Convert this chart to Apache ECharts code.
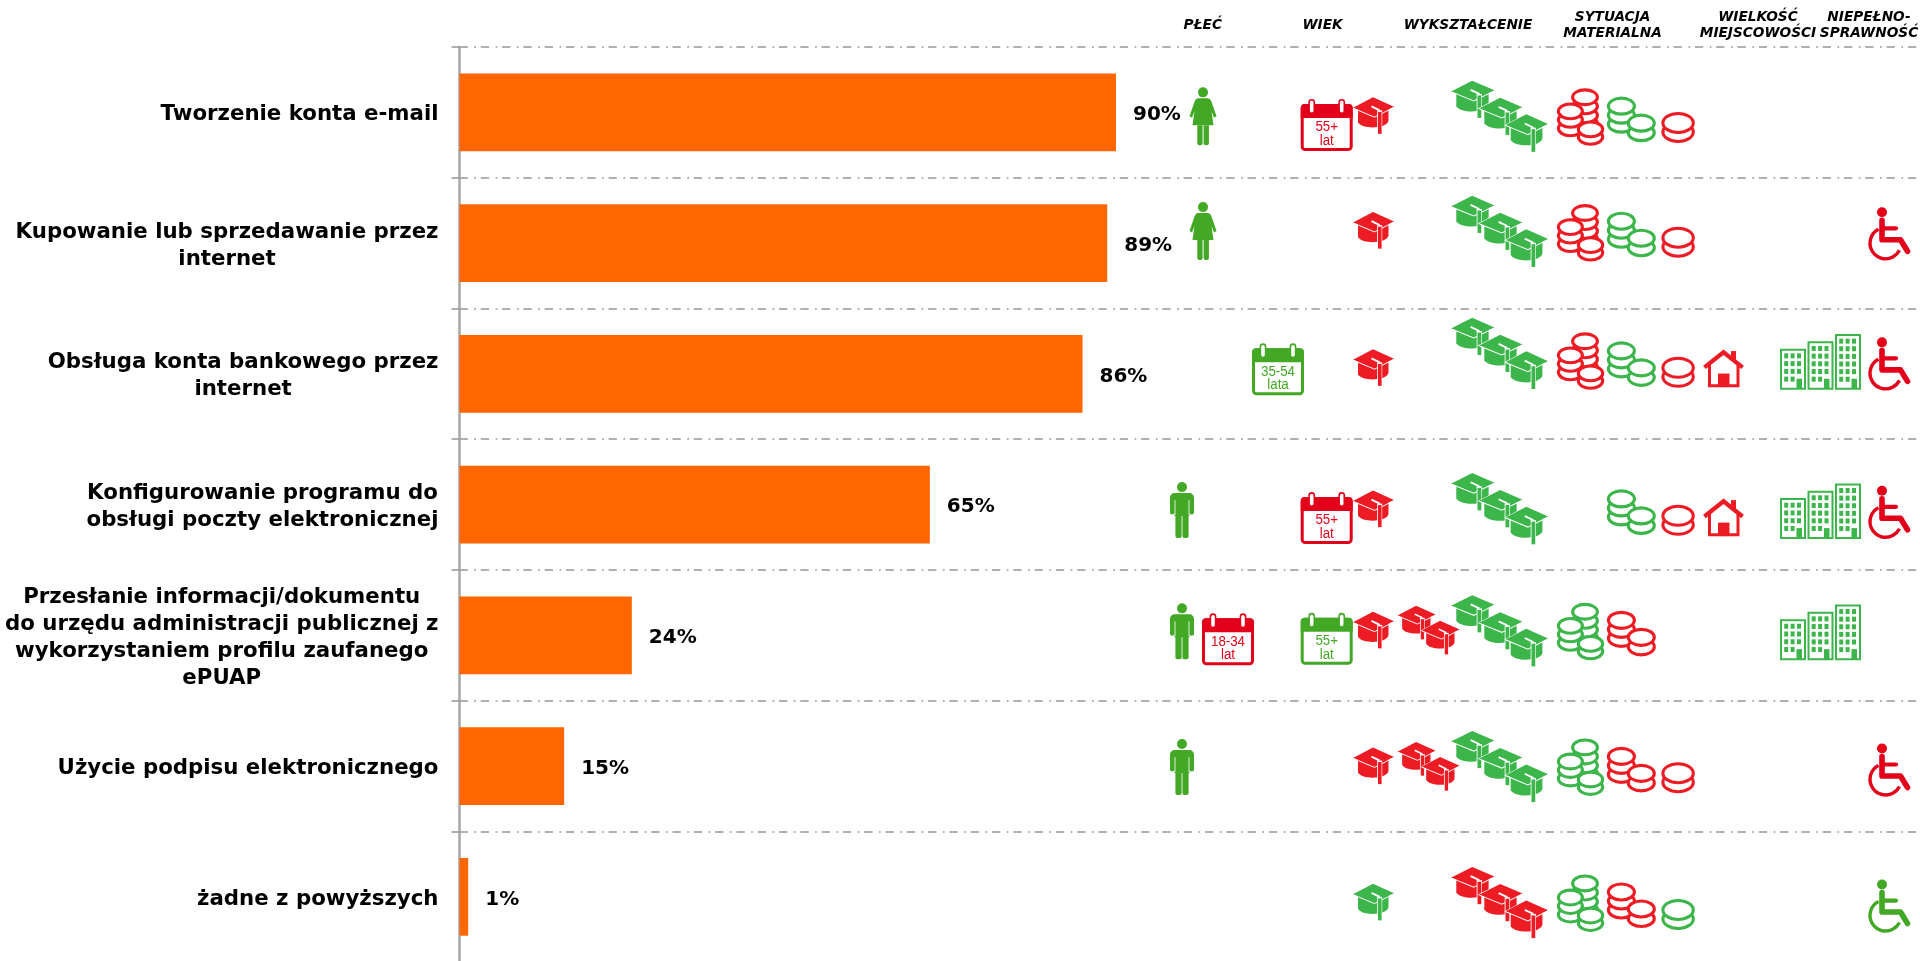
<!DOCTYPE html>
<html lang="pl">
<head>
<meta charset="utf-8">
<style>html,body{margin:0;padding:0;background:#fff;overflow:hidden}#c{width:1920px;height:961px}</style>
<script src="https://cdn.jsdelivr.net/npm/echarts@6/dist/echarts.min.js"></script>
</head>
<body>
<div id="c"></div>
<script>
// ---------- data ----------
const categories = [
  'Tworzenie konta e-mail',
  'Kupowanie lub sprzedawanie przez\ninternet',
  'Obsługa konta bankowego przez\ninternet',
  'Konfigurowanie programu do\nobsługi poczty elektronicznej',
  'Przesłanie informacji/dokumentu\ndo urzędu administracji publicznej z\nwykorzystaniem profilu zaufanego\nePUAP',
  'Użycie podpisu elektronicznego',
  'żadne z powyższych'
];
const barValues = [90.3, 89.1, 85.7, 64.7, 23.7, 14.4, 1.2];
const barLabels = ['90%', '89%', '86%', '65%', '24%', '15%', '1%'];
const columnHeaders = ['PŁEĆ', 'WIEK', 'WYKSZTAŁCENIE', 'SYTUACJA\nMATERIALNA', 'WIELKOŚĆ\nMIEJSCOWOŚCI', 'NIEPEŁNO-\nSPRAWNOŚĆ'];

// icon status per row: G = green, R = red, '' = none
const female  = ['G','G','', '', '', '', ''];
const male    = ['', '', '', 'G','G','G',''];
const age1834 = ['', '', '', '', 'R','', ''];
const age3554 = ['', '', 'G','', '', '', ''];
const age55   = ['R','', '', 'R','G','', ''];
const edu1    = ['R','R','R','R','R','R','G'];
const edu2    = ['', '', '', '', 'R','R',''];
const edu3    = ['G','G','G','G','G','G','R'];
const coins3  = ['R','R','R','', 'G','G','G'];
const coins2  = ['G','G','G','G','R','R','R'];
const coins1  = ['R','R','R','R','', 'R','G'];
const village = ['', '', 'R','R','', '', ''];
const city    = ['', '', 'G','G','G','', ''];
const disabled= ['', 'R','R','R','', 'R','G'];

// ---------- layout (pixels / offsets from the row centre) ----------
const FONT = '"DejaVu Sans", Verdana, sans-serif';
const GREEN = '#3cb54a', GREEN2 = '#43a825', RED = '#ed1c24', RED2 = '#e2001a';
const slots = [
  {s:female,  icon:'female',  x:1189.5, dy:[-25,-41]},
  {s:male,    icon:'male',    x:1170,   dy:[,,,-22.5,-32,-27]},
  {s:age1834, icon:'cal18',   x:1202,   dy:[,,,,-22]},
  {s:age3554, icon:'cal35',   x:1252,   dy:[,,-30.5]},
  {s:age55,   icon:'cal55',   x:1300.7, dy:[-13.4,,,-12.5,-22.5]},
  {s:edu1,    icon:'cap1',    x:1353,   dy:[-15,-31,-24.5,-14,-23.5,-18.5,-13]},
  {s:edu2,    icon:'cap2',    x:1397.5, dy:[,,,,-29.5,-24]},
  {s:edu3,    icon:'cap3',    x:1451,   dy:[-31.7,-47.4,-56.1,-31.5,-40.2,-35.2,-29.9]},
  {s:coins3,  icon:'coins3',  x:1557,   dy:[-24,-39,-41.5,,-32.5,-27.6,-22.3]},
  {s:coins2,  icon:'coins2',  x:1606.6, dy:[-15.7,-31.4,-32.5,-15.2,-24.5,-19.2,-14.3]},
  {s:coins1,  icon:'coins1',  x:1661.3, dy:[-0.4,-16.4,-17.1,0.2,,-3.9,2.1]},
  {s:village, icon:'house',   x:1703,   dy:[,,-23.8,-5.5]},
  {s:city,    icon:'city',    x:1780,   dy:[,,-39.8,-21.2,-30.9]},
  {s:disabled,icon:'wheel',   x:1868,   dy:[,-35.8,-36.5,-18.8,,-22.6,-17.3]}
];

// ---------- pictograms ----------
const P = (d, style) => ({type:'path', shape:{pathData:d}, style});
function capShape(c, edge) {
  const kids = [];
  if (edge) kids.push(P('M5 12 V25 C8 30.5 22 31.5 25 30.5 V36.5 H29 V28.5 C32 27 35.5 25.5 35.5 23 V14 L41 9.5 L20 0 L0 10.5 Z', {fill:'#fff', stroke:'#fff', lineWidth:1}));
  kids.push(
    P('M5 12 V25 C8 30.5 22 31.5 30 28.5 C33 27.3 35.5 25.5 35.5 23 V12 Z', {fill:c}),
    P('M20 0 L41 9.5 L21.5 19 L0 10.5 Z', {fill:c}),
    P('M0.5 11 L21.5 19.8 L41 10', {fill:'none', stroke:'#fff', lineWidth:1}),
    P('M18.5 9 L26.7 13', {fill:'none', stroke:'#fff', lineWidth:1.8}),
    P('M26.7 13 V36.5', {fill:'none', stroke:'#fff', lineWidth:5}),
    {type:'rect', shape:{x:25, y:14.5, width:3.6, height:22}, style:{fill:c}}
  );
  return kids;
}
const sub = (x, y, sx, sy, children) => ({type:'group', x, y, scaleX:sx, scaleY:sy, children});
function coin(c, cx, cy, rx, ry) {
  return {type:'ellipse', shape:{cx, cy, rx, ry}, style:{fill:'#fff', stroke:c, lineWidth:3.1}};
}
function calText(c, t, y, size) {
  return sub(26, y, 0.87, 1, [{type:'text', style:{text:t, x:0, y:0, fill:c, align:'center', verticalAlign:'middle',
    font:size + 'px "Liberation Sans", Arial, sans-serif'}}]);
}
function calendar(c, l1, l2) {
  const kids = [
    {type:'rect', shape:{x:1.5, y:6.5, width:49, height:44, r:3}, style:{fill:'#fff', stroke:c, lineWidth:3}},
    {type:'rect', shape:{x:0, y:5, width:52, height:14, r:[4,4,0,0]}, style:{fill:c}}
  ];
  [11, 41].forEach(x => kids.push({type:'rect', shape:{x:x-2.6, y:0.8, width:5.2, height:13.5, r:2.6}, style:{fill:'#fff', stroke:c, lineWidth:1.6}}));
  kids.push(calText(c, l1, 28, 15.3), calText(c, l2, 41.5, 15.3));
  return kids;
}
function tower(c, x, y, w, h, rows) {
  const kids = [{type:'rect', shape:{x:x+1, y:y+1, width:w-2, height:h-2}, style:{fill:'#fff', stroke:c, lineWidth:2}}];
  for (let r = 0; r < rows; r++) for (let k = 0; k < 3; k++) {
    if (r === rows - 1 && k === 2) continue;
    kids.push({type:'rect', shape:{x:x+4.2+k*6.4, y:y+4.6+r*(h-10)/rows, width:4, height:5}, style:{fill:c}});
  }
  kids.push({type:'rect', shape:{x:x+16.5, y:y+h-11, width:5.5, height:10}, style:{fill:c}});
  return kids;
}
const ICONS = {
  female: c => [
    {type:'circle', shape:{cx:13.5, cy:5, r:5}, style:{fill:c}},
    P('M9 10.8 H18 C20 10.8 21 11.8 22 14.5 L27 29 L24.5 30.5 L22 24 L24 38 H3 L5 24 L2.5 30.5 L0 29 L5 14.5 C6 11.8 7 10.8 9 10.8 Z', {fill:c}),
    {type:'rect', shape:{x:7.8, y:38, width:5.3, height:20, r:[0,0,2,2]}, style:{fill:c}},
    {type:'rect', shape:{x:14.1, y:38, width:5.3, height:20, r:[0,0,2,2]}, style:{fill:c}}
  ],
  male: c => [
    {type:'circle', shape:{cx:12, cy:5, r:5}, style:{fill:c}},
    P('M5 11 H19 C22 11 24 13 24 16 V30.5 C24 33 19.5 33 19.5 30.5 V34 H4.5 V30.5 C4.5 33 0 33 0 30.5 V16 C0 13 2 11 5 11 Z', {fill:c}),
    P('M5 18 V33 M19 18 V33', {fill:'none', stroke:'#fff', lineWidth:0.8}),
    {type:'rect', shape:{x:5.4, y:33, width:6.2, height:23, r:[0,0,2,2]}, style:{fill:c}},
    {type:'rect', shape:{x:12.4, y:33, width:6.2, height:23, r:[0,0,2,2]}, style:{fill:c}}
  ],
  cal18: c => calendar(c, '18-34', 'lat'),
  cal35: c => calendar(c, '35-54', 'lata'),
  cal55: c => calendar(c, '55+', 'lat'),
  cap1: c => capShape(c, false),
  cap2: c => [sub(0, 0, 0.93, 0.92, capShape(c, true)), sub(24, 15, 0.93, 0.92, capShape(c, true))],
  cap3: c => [sub(0, 0, 1.06, 1.02, capShape(c, true)), sub(28, 17, 1.06, 1.02, capShape(c, true)), sub(54.5, 33.6, 1.04, 1.03, capShape(c, true))],
  coins3: c => [
    coin(c,28,35,12.4,7.4), coin(c,28,27,12.4,7.4), coin(c,28,18,12.4,7.4), coin(c,28,8.9,12.4,7.4),
    coin(c,13.4,40,12,7.4), coin(c,13.4,31.5,12,7.4), coin(c,13.4,23,12,7.4),
    coin(c,33.5,48.5,12.2,7.4), coin(c,33.5,41,12.2,7.4)
  ],
  coins2: c => [
    coin(c,14.8,27.5,13,8), coin(c,14.8,18.5,13,8), coin(c,14.8,9.5,13,8),
    coin(c,34.7,36,13,8), coin(c,34.7,26.5,13,8)
  ],
  coins1: c => [coin(c,16.8,20,15.2,9.5), coin(c,16.8,11,15.2,9.5)],
  house: c => [
    P('M6.5 14 V35.6 H35 V14', {fill:'none', stroke:c, lineWidth:3}),
    P('M1.4 17.4 L20.5 2.2 L39.6 17.4', {fill:'none', stroke:c, lineWidth:4.2}),
    {type:'rect', shape:{x:28, y:1, width:5, height:10}, style:{fill:c}},
    {type:'rect', shape:{x:15, y:23.5, width:11.5, height:13.5}, style:{fill:c}}
  ],
  city: c => [].concat(tower(c,0,14.7,26,41,4), tower(c,27.5,7.3,26,48.4,5), tower(c,55,0,26,55.7,6)),
  wheel: c => [
    {type:'circle', shape:{cx:14, cy:5, r:5}, style:{fill:c}},
    P('M14 13 V32.5 H32.5 L39.5 44', {fill:'none', stroke:c, lineWidth:5.6, lineCap:'round', lineJoin:'round'}),
    P('M14 21 H28', {fill:'none', stroke:c, lineWidth:4.2, lineCap:'round'}),
    P('M10.5 22 A15.6 15.6 0 1 0 31.5 43', {fill:'none', stroke:c, lineWidth:3.4})
  ]
};
const SOLID = {female:1, male:1, cal18:1, cal35:1, cal55:1, wheel:1};
function iconColor(icon, flag) {
  if (SOLID[icon]) return flag === 'G' ? GREEN2 : RED2;
  return flag === 'G' ? GREEN : RED;
}

// ---------- marks ----------
const iconItems = [];
slots.forEach((slot, si) => slot.s.forEach((flag, row) => {
  if (flag) iconItems.push([0, row, si, flag === 'G' ? 1 : 0]);
}));
function renderIcon(params, api) {
  const row = api.value(1), slot = slots[api.value(2)];
  const flag = api.value(3) ? 'G' : 'R';
  const y = api.coord([0, row])[1] + slot.dy[row];
  return {type:'group', x:slot.x, y, children:ICONS[slot.icon](iconColor(slot.icon, flag))};
}
const headerPos = [[1202.7,25],[1322.6,25],[1468,25],[1612.6,25],[1758,25],[1869,25]];

const chart = echarts.init(document.getElementById('c'), null, {renderer:'canvas', width:1920, height:961});
chart.setOption({
  animation:false,
  backgroundColor:'#fff',
  grid:{left:459.5, top:47, width:1460.5, height:915.2, containLabel:false, outerBoundsMode:'none'},
  xAxis:{type:'value', min:0, max:200.9, show:false},
  yAxis:{
    type:'category', data:categories, inverse:true,
    axisLine:{show:true, lineStyle:{color:'#a6a6a6', width:2.5}},
    axisTick:{show:true, length:8, lineStyle:{color:'#969696', width:1.5}},
    splitLine:{show:true, interval:0, lineStyle:{color:'#969696', width:1.5, type:[8.3,6.5,1.7,4.8]}},
    axisLabel:{
      interval:0, margin:21, align:'right', padding:[5,0,0,0],
      formatter:v => v.split('\n').map(l => '{c|' + l + '}').join('\n'),
      rich:{c:{align:'center', fontFamily:FONT, fontWeight:'bold', fontSize:21.3, lineHeight:27, color:'#000'}}
    }
  },
  series:[
    {type:'bar', data:barValues, barWidth:77.7, itemStyle:{color:'#ff6600'},
      label:{show:true, position:'right', distance:17, offset:[0,2.5], color:'#000',
        fontFamily:FONT, fontWeight:'bold', fontSize:20, formatter:p => barLabels[p.dataIndex]}, silent:true},
    {type:'custom', data:iconItems, renderItem:renderIcon, clip:false, silent:true, encode:{x:0, y:1}}
  ],
  graphic:columnHeaders.map((t, i) => ({type:'text', silent:true, x:headerPos[i][0], y:headerPos[i][1],
    style:{text:t, align:'center', verticalAlign:'middle', fill:'#000', lineHeight:16, font:'italic bold 13.7px ' + FONT}}))
});
</script>
</body>
</html>
